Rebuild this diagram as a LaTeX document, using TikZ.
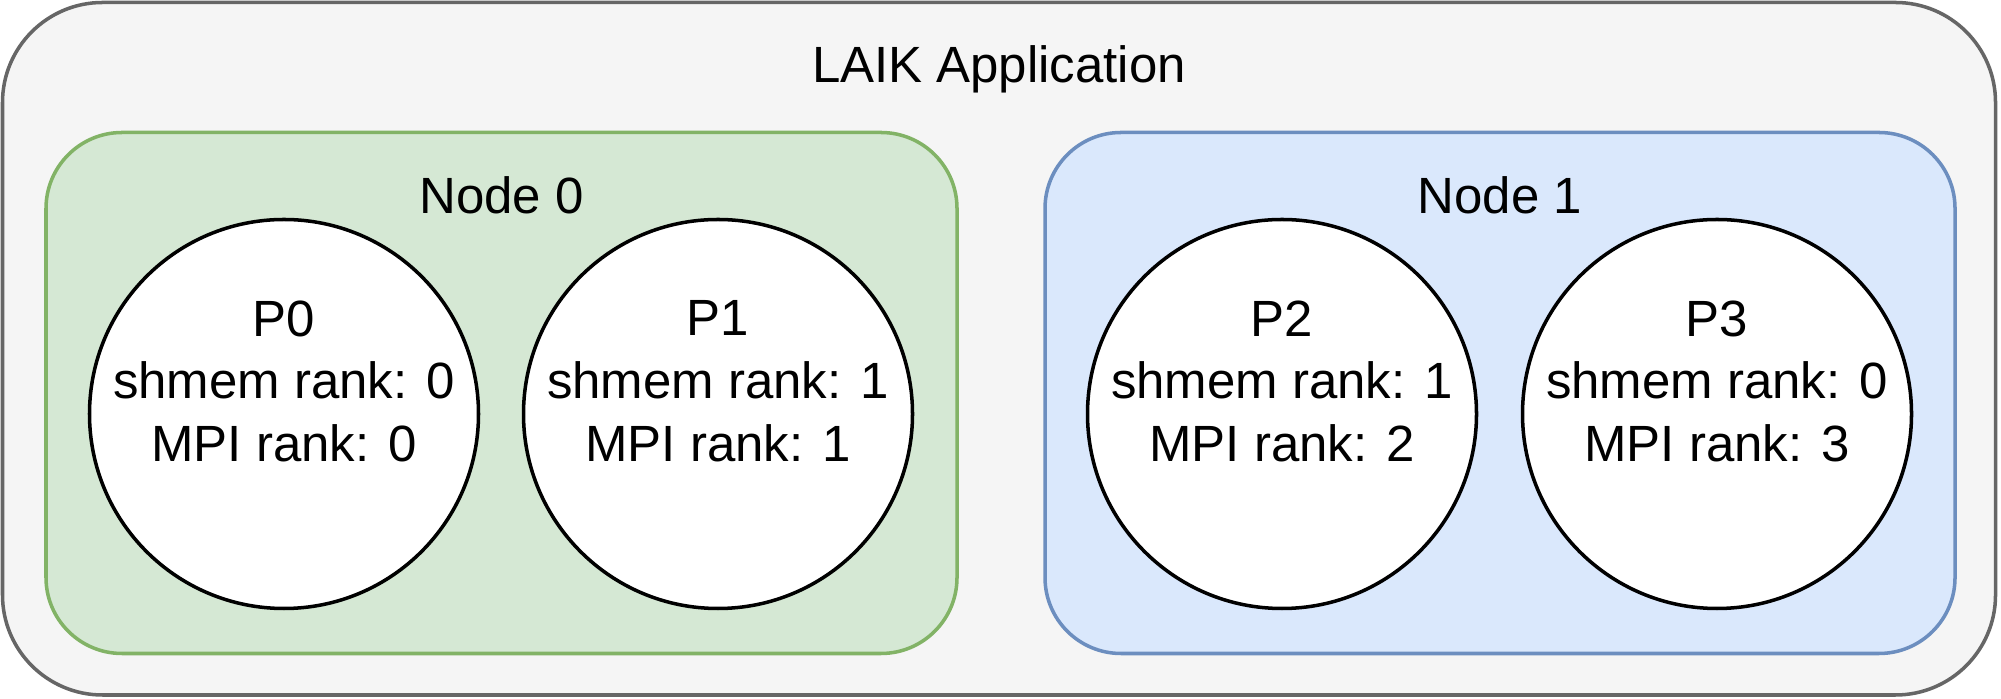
\documentclass[tikz,border=0pt]{standalone}
\usepackage{fontspec}
\setmainfont{Liberation Sans}
\usetikzlibrary{positioning}

\definecolor{appfill}{HTML}{F5F5F5}
\definecolor{appline}{HTML}{666666}
\definecolor{greenfill}{HTML}{D5E8D4}
\definecolor{greenline}{HTML}{82B366}
\definecolor{bluefill}{HTML}{DAE8FC}
\definecolor{blueline}{HTML}{6C8EBF}

\begin{document}
\begin{tikzpicture}[
    font=\fontsize{14.5}{17.8}\selectfont,
    box/.style={draw, line width=1pt, rounded corners=0.76cm, inner sep=0pt},
    proc/.style={circle, draw=black, fill=white, line width=1pt, minimum size=3.89cm, inner sep=0pt},
    caption/.style={anchor=base, inner sep=0pt},
    ranks/.style={align=center, inner sep=0pt}
  ]
  %fast ramme
  	\useasboundingbox (0,0) rectangle (20.01,6.99);

  %applikationen
  	\node[box, rounded corners=1cm, draw=appline, fill=appfill, minimum width=19.93cm, minimum height=6.925cm] (app) at (9.99,3.5025) {};
  	\node[caption] (apptitle) at ([yshift=-0.815cm]app.north) {LAIK Application};

  %node 0 og node 1
  	\node[box, draw=greenline, fill=greenfill, minimum width=9.11cm, minimum height=5.21cm] (node0) at (5.015,3.06) {};
  	\node[box, draw=blueline, fill=bluefill, minimum width=9.10cm, minimum height=5.21cm] (node1) at (15.0,3.06) {};
  	\node[caption] (node0title) at ([yshift=-0.825cm]node0.north) {Node 0};
  	\node[caption] (node1title) at ([yshift=-0.825cm]node1.north) {Node 1};

  %processer
  	\foreach \p/\x/\s in {0/2.84/0, 1/7.18/1, 2/12.82/1, 3/17.17/0} {
  		\node[proc] (p\p) at (\x,2.85) {};
  		\node[ranks] (t\p) at ([yshift=0.328cm]p\p.center) {P\p\\shmem rank: \s\\MPI rank: \p};
  	}
\end{tikzpicture}
\end{document}
